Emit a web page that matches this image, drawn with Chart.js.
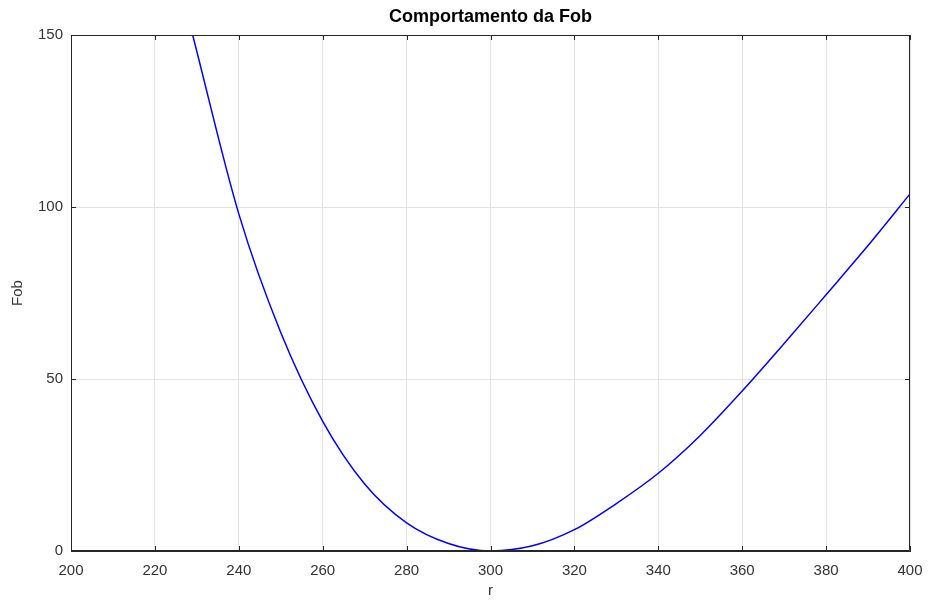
<!DOCTYPE html>
<html lang="pt">
<head>
    <meta charset="UTF-8">
    <title>Comportamento da Fob</title>
    <script src="https://cdn.jsdelivr.net/npm/chart.js"></script>
    <style>
        html, body { margin: 0; padding: 0; background: #fff; }
        #wrap { width: 928px; height: 600px; }
    </style>
</head>
<body>
    <div id="wrap">
        <canvas id="fobChart" width="928" height="600"></canvas>
    </div>

    <script>
        // Values
        const rValues = [229, 240, 250, 260, 270, 280, 290, 300, 310, 320, 330, 340, 350, 360, 370, 380, 390, 400];
        const fobValues = [150, 98, 63.5, 37.7, 19.5, 8.2, 2.2, 0, 1.5, 6.2, 13.8, 22.6, 33.6, 46.5, 60.3, 74.5, 88.8, 103.8];
        const xTicks = [200, 220, 240, 260, 280, 300, 320, 340, 360, 380, 400];
        const yTicks = [0, 50, 100, 150];
        const titleText = 'Comportamento da Fob';

        const points = rValues.map((r, i) => ({ x: r, y: fobValues[i] }));
        const fontFamily = "'Liberation Sans', Arial, Helvetica, sans-serif";

        // Box around the axes, inward tick marks and a title centred on the plot area (matlab style)
        const boxPlugin = {
            id: 'boxPlugin',
            afterDraw(chart) {
                const { ctx, chartArea: a, scales } = chart;
                ctx.save();
                ctx.strokeStyle = '#262626';
                ctx.lineWidth = 1;
                ctx.beginPath();
                ctx.rect(a.left + 0.5, a.top + 0.5, a.right - a.left - 1, a.bottom - a.top - 1);
                ctx.stroke();
                const len = 5;
                ctx.beginPath();
                xTicks.forEach(v => {
                    const px = Math.round(scales.x.getPixelForValue(v)) + 0.5;
                    ctx.moveTo(px, a.bottom); ctx.lineTo(px, a.bottom - len);
                    ctx.moveTo(px, a.top); ctx.lineTo(px, a.top + len);
                });
                yTicks.forEach(v => {
                    const py = Math.round(scales.y.getPixelForValue(v)) + 0.5;
                    ctx.moveTo(a.left, py); ctx.lineTo(a.left + len, py);
                    ctx.moveTo(a.right, py); ctx.lineTo(a.right - len, py);
                });
                ctx.stroke();

                ctx.fillStyle = '#000';
                ctx.font = 'bold 18px ' + fontFamily;
                ctx.textAlign = 'center';
                ctx.textBaseline = 'middle';
                ctx.fillText(titleText, (a.left + a.right) / 2, 17);
                ctx.restore();
            }
        };

        const ctx = document.getElementById('fobChart').getContext('2d');
        const fobChart = new Chart(ctx, {
            type: 'line',
            data: {
                datasets: [{
                    label: 'Fob',
                    data: points,
                    borderColor: '#0000ff',
                    borderWidth: 1.5,
                    pointRadius: 0,
                    fill: false,
                    cubicInterpolationMode: 'monotone'
                }]
            },
            options: {
                responsive: false,
                animation: false,
                layout: { padding: { left: 0, right: 18, top: 35, bottom: 0 } },
                scales: {
                    x: {
                        type: 'linear',
                        min: 200,
                        max: 400,
                        afterBuildTicks: s => { s.ticks = xTicks.map(v => ({ value: v })); },
                        afterFit: s => { s.height = 49; s.paddingLeft = 0; s.paddingRight = 0; },
                        grid: { color: '#e3e3e3', drawTicks: false },
                        border: { color: '#262626' },
                        ticks: { padding: 11, color: '#333', font: { family: fontFamily, size: 15 } },
                        title: {
                            display: true,
                            text: 'r',
                            color: '#333',
                            padding: { top: 0, bottom: 0 },
                            font: { family: fontFamily, size: 15 }
                        }
                    },
                    y: {
                        min: 0,
                        max: 150,
                        afterBuildTicks: s => { s.ticks = yTicks.map(v => ({ value: v })); },
                        afterFit: s => { s.width = 71; s.paddingTop = 0; s.paddingBottom = 0; },
                        grid: { color: '#e3e3e3', drawTicks: false },
                        border: { color: '#262626' },
                        ticks: { padding: 8, color: '#333', font: { family: fontFamily, size: 15 } },
                        title: {
                            display: true,
                            text: 'Fob',
                            color: '#333',
                            padding: { top: 9, bottom: 0 },
                            font: { family: fontFamily, size: 15 }
                        }
                    }
                },
                plugins: {
                    legend: { display: false },
                    tooltip: { enabled: false },
                    title: { display: false }
                }
            },
            plugins: [boxPlugin]
        });
    </script>
</body>
</html>
